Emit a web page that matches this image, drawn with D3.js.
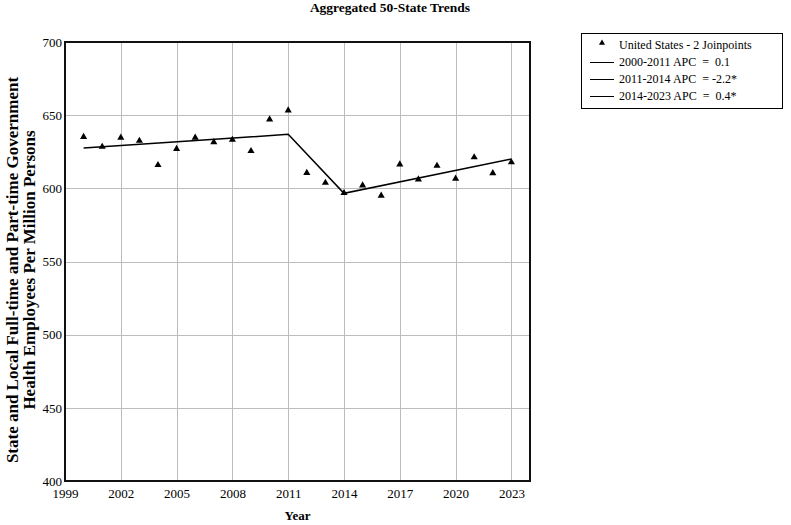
<!DOCTYPE html>
<html><head><meta charset="utf-8">
<script src="https://cdn.jsdelivr.net/npm/d3@7"></script>
<style>body{margin:0;background:#fff}svg{display:block;font-family:"Liberation Serif","Times New Roman",serif}</style>
</head><body>
<svg id="c" width="791" height="525"></svg>
<script>
const years = [2000,2001,2002,2003,2004,2005,2006,2007,2008,2009,2010,2011,2012,2013,2014,2015,2016,2017,2018,2019,2020,2021,2022,2023];
const observed = [635.2,628.4,634.6,632.5,615.9,627.0,634.6,631.6,633.2,625.5,647.1,653.3,610.5,603.8,596.8,602.0,595.0,616.4,606.1,615.4,606.6,621.2,610.4,617.8];
const joinYears = [2000,2011,2014,2023];
const joinValues = [627.5,636.9,596.6,620.0];
const xTicks = [1999,2002,2005,2008,2011,2014,2017,2020,2023];
const yTicks = [400,450,500,550,600,650,700];
const legendLabels = ["United States - 2 Joinpoints","2000-2011 APC  =  0.1","2011-2014 APC  = -2.2*","2014-2023 APC  =  0.4*"];
const title = "Aggregated 50-State Trends";
const xTitle = "Year";
const yTitle = ["State and Local Full-time and Part-time Government","Health Employees Per Million Persons"];

const svg = d3.select("#c");
const L=65, R=530, T=42, B=481;
const x = d3.scaleLinear().domain([1999,2024]).range([L,R]);
const y = d3.scaleLinear().domain([400,700]).range([B,T]);

// grid
svg.append("g").selectAll("line").data(xTicks.slice(1)).join("line")
  .attr("x1",d=>Math.round(x(d))+0.5).attr("x2",d=>Math.round(x(d))+0.5).attr("y1",T).attr("y2",B)
  .attr("stroke","#bdbdbd").attr("stroke-width",1);
svg.append("g").selectAll("line").data(yTicks.slice(1,-1)).join("line")
  .attr("x1",L).attr("x2",R).attr("y1",d=>Math.round(y(d))+0.5).attr("y2",d=>Math.round(y(d))+0.5)
  .attr("stroke","#bdbdbd").attr("stroke-width",1);

// border
svg.append("rect").attr("x",L).attr("y",T).attr("width",R-L).attr("height",B-T)
  .attr("fill","none").attr("stroke","#111").attr("stroke-width",2);

// axes labels via d3 axes
const xa = svg.append("g").attr("transform",`translate(0,${B})`)
  .call(d3.axisBottom(x).tickValues(xTicks).tickFormat(d3.format("d")).tickSize(0).tickPadding(8));
xa.attr("font-family",null);
xa.select(".domain").remove();
xa.selectAll("text").attr("font-size",13).attr("fill","#000");
const ya = svg.append("g").attr("transform",`translate(${L},0)`)
  .call(d3.axisLeft(y).tickValues(yTicks).tickFormat(d3.format("d")).tickSize(0).tickPadding(3));
ya.attr("font-family",null);
ya.select(".domain").remove();
ya.selectAll("text").attr("font-size",13).attr("fill","#000");

// joinpoint line
svg.append("path").datum(joinYears.map((d,i)=>[d,joinValues[i]]))
  .attr("d",d3.line().x(d=>x(d[0])).y(d=>y(d[1])))
  .attr("fill","none").attr("stroke","#000").attr("stroke-width",1.5);

// points
const tri = d3.symbol().type(d3.symbolTriangle).size(22);
svg.append("g").selectAll("path").data(years).join("path")
  .attr("d",tri).attr("transform",(d,i)=>`translate(${x(d)},${y(observed[i])})`).attr("fill","#000");

// titles
svg.append("text").attr("x",390).attr("y",12).attr("text-anchor","middle")
  .attr("font-size",13.5).attr("font-weight","bold").text(title);
svg.append("text").attr("x",(L+R)/2).attr("y",520).attr("text-anchor","middle")
  .attr("font-size",13).attr("font-weight","bold").text(xTitle);
yTitle.forEach((t,i)=>{
  svg.append("text").attr("transform",`translate(${18+i*17},270) rotate(-90)`)
    .attr("text-anchor","middle").attr("font-size",17).attr("font-weight","bold").text(t);
});

// legend
const lg = svg.append("g");
lg.append("rect").attr("x",581.5).attr("y",33.5).attr("width",201).attr("height",75)
  .attr("fill","#fff").attr("stroke","#000").attr("stroke-width",1);
legendLabels.forEach((t,i)=>{
  const cy = 45+i*17;
  if(i===0){
    lg.append("path").attr("d",d3.symbol().type(d3.symbolTriangle).size(16)).attr("transform",`translate(602,${cy-2})`).attr("fill","#000");
  } else {
    lg.append("line").attr("x1",590).attr("x2",614).attr("y1",cy+0.5).attr("y2",cy+0.5).attr("stroke","#000").attr("stroke-width",1);
  }
  lg.append("text").attr("x",619).attr("y",cy+4).attr("font-size",12).attr("xml:space","preserve").style("white-space","pre").text(t);
});
</script>
</body></html>
